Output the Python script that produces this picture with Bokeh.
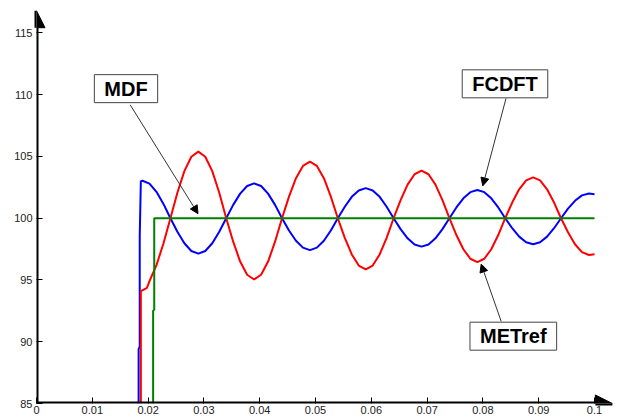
from bokeh.plotting import figure
from bokeh.models import Arrow, NormalHead, Label, FixedTicker, Range1d
from bokeh.embed import file_html
from bokeh.resources import INLINE

# ---- data ----
x_ticks = [0, 0.01, 0.02, 0.03, 0.04, 0.05, 0.06, 0.07, 0.08, 0.09, 0.1]
x_tick_labels = ["0", "0.01", "0.02", "0.03", "0.04", "0.05", "0.06", "0.07", "0.08", "0.09", "0.1"]
y_ticks = [85, 90, 95, 100, 105, 110, 115]
y_tick_labels = ["85", "90", "95", "100", "105", "110", "115"]

# MDF (green)
mdf_t = [0.0209, 0.0209, 0.0211, 0.0211, 0.1]
mdf_v = [85.0, 92.5, 92.6, 100.0, 100.0]

# FCDFT (blue)
fcdft_t = [0.0183, 0.0183, 0.0185, 0.0185, 0.0187,
           0.019, 0.02025, 0.0215, 0.02275, 0.024, 0.02525, 0.0265, 0.02775,
           0.029, 0.03025, 0.0315, 0.03275, 0.034, 0.03525, 0.0365, 0.03775,
           0.039, 0.04025, 0.0415, 0.04275, 0.044, 0.04525, 0.0465, 0.04775,
           0.049, 0.05025, 0.0515, 0.05275, 0.054, 0.05525, 0.0565, 0.05775,
           0.059, 0.06025, 0.0615, 0.06275, 0.064, 0.06525, 0.0665, 0.06775,
           0.069, 0.07025, 0.0715, 0.07275, 0.074, 0.07525, 0.0765, 0.07775,
           0.079, 0.08025, 0.0815, 0.08275, 0.084, 0.08525, 0.0865, 0.08775,
           0.089, 0.09025, 0.0915, 0.09275, 0.094, 0.09525, 0.0965, 0.09775,
           0.099, 0.1]
fcdft_v = [85.0, 89.4, 89.6, 98.5, 103.0,
           103.03, 102.80, 102.14, 101.16, 100.00, 98.90, 97.97, 97.35,
           97.13, 97.35, 97.97, 98.90, 100.00, 101.08, 101.99, 102.61,
           102.82, 102.61, 101.99, 101.08, 100.00, 99.01, 98.18, 97.62,
           97.42, 97.62, 98.18, 99.01, 100.00, 100.93, 101.73, 102.25,
           102.44, 102.25, 101.73, 100.93, 100.00, 99.12, 98.37, 97.87,
           97.70, 97.87, 98.37, 99.12, 100.00, 100.87, 101.61, 102.11,
           102.28, 102.11, 101.61, 100.87, 100.00, 99.19, 98.51, 98.05,
           97.89, 98.05, 98.51, 99.19, 100.00, 100.77, 101.41, 101.85,
           102.00, 101.95]

# METref (red)
metref_t = [0.0187, 0.0187, 0.0198, 0.02025, 0.0215, 0.02275, 0.024, 0.02525, 0.0265, 0.02775,
            0.029, 0.03025, 0.0315, 0.03275, 0.034, 0.03525, 0.0365, 0.03775,
            0.039, 0.04025, 0.0415, 0.04275, 0.044, 0.04525, 0.0465, 0.04775,
            0.049, 0.05025, 0.0515, 0.05275, 0.054, 0.05525, 0.0565, 0.05775,
            0.059, 0.06025, 0.0615, 0.06275, 0.064, 0.06525, 0.0665, 0.06775,
            0.069, 0.07025, 0.0715, 0.07275, 0.074, 0.07525, 0.0765, 0.07775,
            0.079, 0.08025, 0.0815, 0.08275, 0.084, 0.08525, 0.0865, 0.08775,
            0.089, 0.09025, 0.0915, 0.09275, 0.094, 0.09525, 0.0965, 0.09775,
            0.099, 0.1]
metref_v = [85.0, 94.09, 94.37, 94.9, 96.2, 97.95, 100.00, 102.06, 103.81, 104.98,
            105.39, 104.98, 103.81, 102.06, 100.00, 98.10, 96.49, 95.42,
            95.04, 95.42, 96.49, 98.10, 100.00, 101.75, 103.24, 104.23,
            104.58, 104.23, 103.24, 101.75, 100.00, 98.41, 97.07, 96.17,
            95.85, 96.17, 97.07, 98.41, 100.00, 101.47, 102.72, 103.56,
            103.85, 103.56, 102.72, 101.47, 100.00, 98.64, 97.49, 96.72,
            96.45, 96.72, 97.49, 98.64, 100.00, 101.27, 102.34, 103.06,
            103.31, 103.06, 102.34, 101.27, 100.00, 98.86, 97.89, 97.25,
            97.02, 97.08]

# ---- figure ----
p = figure(width=618, height=418, output_backend="svg", toolbar_location=None,
           x_range=Range1d(0, 0.1043), y_range=Range1d(85, 117.06),
           min_border_left=36, min_border_right=0, min_border_top=7, min_border_bottom=15)
p.outline_line_color = None
p.xgrid.visible = False
p.ygrid.visible = False
p.background_fill_color = "white"
p.border_fill_color = "white"

for ax, ticks, labels in ((p.xaxis[0], x_ticks, x_tick_labels), (p.yaxis[0], y_ticks, y_tick_labels)):
    ax.ticker = FixedTicker(ticks=ticks)
    ax.major_label_overrides = {t: l for t, l in zip(ticks, labels)}
    ax.axis_line_color = None
    ax.minor_tick_line_color = None
    ax.major_tick_in = 6
    ax.major_tick_out = 0
    ax.major_tick_line_color = "black"
    ax.major_tick_line_width = 1
    ax.major_label_text_font = "Liberation Sans"
    ax.major_label_text_font_size = "11px"
    ax.major_label_text_color = "#222222"
p.xaxis[0].major_label_standoff = 2
p.yaxis[0].major_label_standoff = 4

p.line(fcdft_t, fcdft_v, line_color="#0000ff", line_width=2)
p.line(metref_t, metref_v, line_color="#ff0000", line_width=2)
p.line(mdf_t, mdf_v, line_color="#008000", line_width=2)

# axis arrows
p.add_layout(Arrow(x_start=0, y_start=85, x_end=0.1032, y_end=85, line_width=4, line_color="black",
                   end=NormalHead(size=17, fill_color="black", line_color="black", line_width=1)))
p.add_layout(Arrow(x_start=0, y_start=85, x_end=0, y_end=116.8, line_width=4, line_color="black",
                   end=NormalHead(size=17, fill_color="black", line_color="black", line_width=1)))

# callouts
def callout(text, lx, ly, x0, y0, x1, y1):
    p.add_layout(Arrow(x_start=x0, y_start=y0, x_end=x1, y_end=y1, line_width=1, line_color="#333333",
                       end=NormalHead(size=8, fill_color="black", line_color="black", line_width=1)))
    p.add_layout(Label(x=lx, y=ly, text=text, text_align="center", text_baseline="middle",
                       text_font="Liberation Sans", text_font_style="bold", text_font_size="20px",
                       text_color="black", background_fill_color="white",
                       border_line_color="#444444", border_line_width=1,
                       padding=dict(left=10, right=10, top=3, bottom=3)))

callout("MDF", 0.01604, 110.49, 0.01679, 109.18, 0.02894, 100.37)
callout("FCDFT", 0.08396, 110.88, 0.08414, 109.70, 0.07998, 102.62)
callout("METref", 0.08545, 90.45, 0.08328, 91.64, 0.07969, 96.28)

open("out.html", "w").write(file_html(p, INLINE))
